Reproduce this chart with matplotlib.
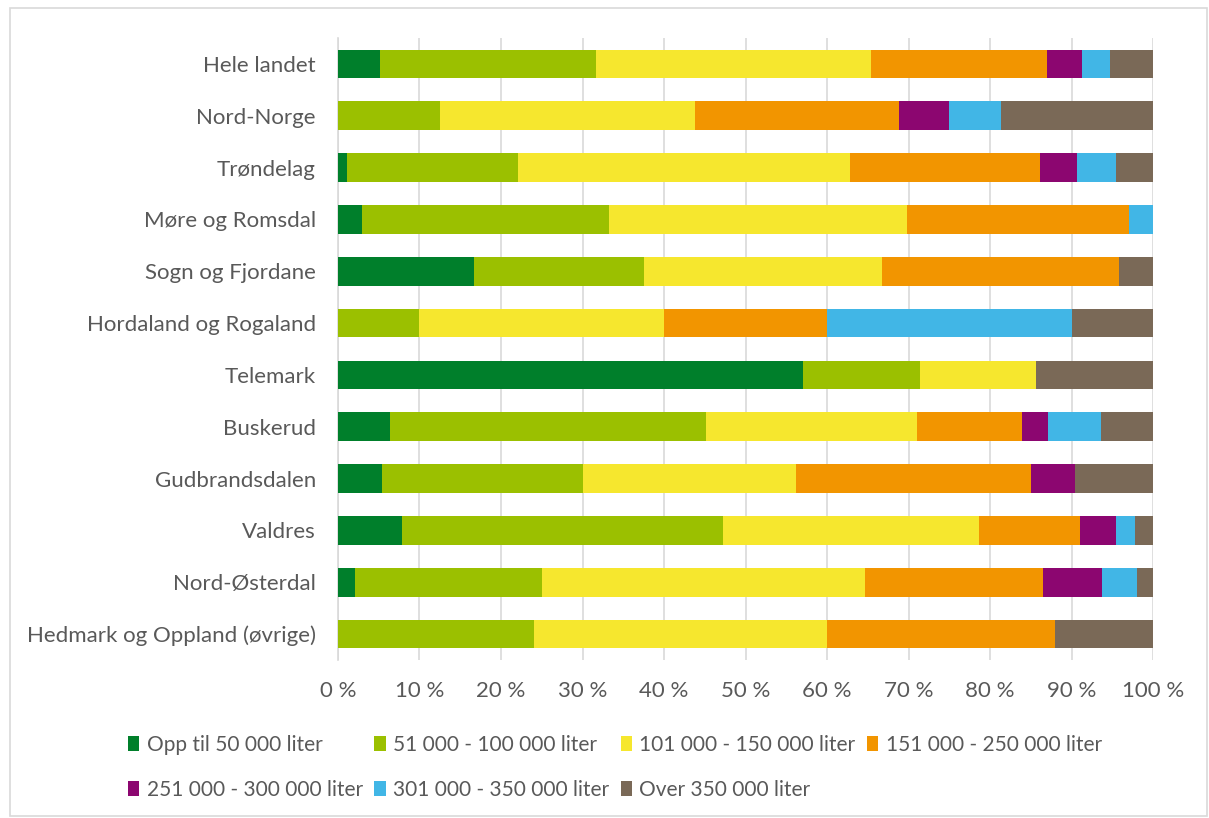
import numpy as np
import matplotlib
matplotlib.use("Agg")
import matplotlib.pyplot as plt
from matplotlib.patches import Rectangle

plt.rcParams['font.family'] = ['Lato', 'DejaVu Sans']

# ------------------------------------------------------------
# data (percent of farms per tank-size class)
# ------------------------------------------------------------
regions = ['Hele landet', 'Nord-Norge', 'Trøndelag', 'Møre og Romsdal',
           'Sogn og Fjordane', 'Hordaland og Rogaland', 'Telemark', 'Buskerud',
           'Gudbrandsdalen', 'Valdres', 'Nord-Østerdal',
           'Hedmark og Oppland (øvrige)']

series_names = ['Opp til 50 000 liter', '51 000 - 100 000 liter',
                '101 000 - 150 000 liter', '151 000 - 250 000 liter',
                '251 000 - 300 000 liter', '301 000 - 350 000 liter',
                'Over 350 000 liter']

opp_til_50 = [5.1, 0.0, 1.1, 3.0, 16.7, 0.0, 57.1, 6.4, 5.4, 7.9, 2.1, 0.0]
s51_100 = [26.6, 12.5, 21.0, 30.3, 20.8, 10.0, 14.3, 38.8, 24.7, 39.3, 22.9, 24.0]
s101_150 = [33.7, 31.3, 40.7, 36.5, 29.2, 30.0, 14.3, 25.8, 26.1, 31.5, 39.7, 36.0]
s151_250 = [21.6, 25.0, 23.3, 27.2, 29.1, 20.0, 0.0, 12.9, 28.8, 12.3, 21.8, 28.0]
s251_300 = [4.3, 6.2, 4.6, 0.0, 0.0, 0.0, 0.0, 3.2, 5.4, 4.5, 7.3, 0.0]
s301_350 = [3.4, 6.3, 4.7, 3.0, 0.0, 30.0, 0.0, 6.5, 0.0, 2.3, 4.2, 0.0]
over_350 = [5.3, 18.7, 4.6, 0.0, 4.2, 10.0, 14.3, 6.4, 9.6, 2.2, 2.0, 12.0]

xticks = [0, 10, 20, 30, 40, 50, 60, 70, 80, 90, 100]

colors = ['#007F2B', '#9BC000', '#F6E72E', '#F29500',
          '#8C0670', '#41B6E6', '#7A6957']

series = [opp_til_50, s51_100, s101_150, s151_250, s251_300, s301_350, over_350]

# ------------------------------------------------------------
# plot
# ------------------------------------------------------------
fig = plt.figure(figsize=(12.09, 8.18), dpi=100)
ax = fig.add_axes([338 / 1209, 1 - 660 / 818, 815 / 1209, 622 / 818])

txt = '#595959'
y = np.arange(len(regions))
left = np.zeros(len(regions))
handles = []
for vals, name, col in zip(series, series_names, colors):
    vals = np.array(vals)
    b = ax.barh(y, vals, left=left, height=0.555, color=col,
                edgecolor='none', label=name, zorder=3)
    handles.append(b)
    left += vals

ax.set_ylim(len(regions) - 0.5, -0.5)
ax.set_xlim(0, 100)
ax.set_xticks(xticks)
ax.set_xticklabels([f'{t} %' for t in xticks])
ax.set_yticks(y)
ax.set_yticklabels(regions)

ax.tick_params(axis='both', length=0, labelsize=16, colors=txt)
ax.tick_params(axis='y', pad=16)
ax.tick_params(axis='x', pad=15)

ax.grid(axis='x', color='#D9D9D9', linewidth=1.2, zorder=0)
for s in ['top', 'right', 'bottom']:
    ax.spines[s].set_visible(False)
ax.spines['left'].set_color('#D9D9D9')
ax.spines['left'].set_linewidth(1.2)

# legend filled row-wise like the original
order = [0, 4, 1, 5, 2, 6, 3]
leg = fig.legend([handles[i] for i in order], [series_names[i] for i in order],
                 ncol=4, loc='upper left', bbox_to_anchor=(128 / 1209, 1 - 735 / 818),
                 frameon=False, fontsize=15, handlelength=0.55, handleheight=0.75,
                 handletextpad=0.35, columnspacing=0.55, labelspacing=1.2,
                 borderaxespad=0, borderpad=0)
for t in leg.get_texts():
    t.set_color(txt)

# thin chart-area border
fig.patches.append(Rectangle((10 / 1209, 2 / 818), 1197 / 1209, 808 / 818,
                             transform=fig.transFigure, fill=False,
                             edgecolor='#D9D9D9', linewidth=1.2))

fig.savefig('out.png', dpi=100)
